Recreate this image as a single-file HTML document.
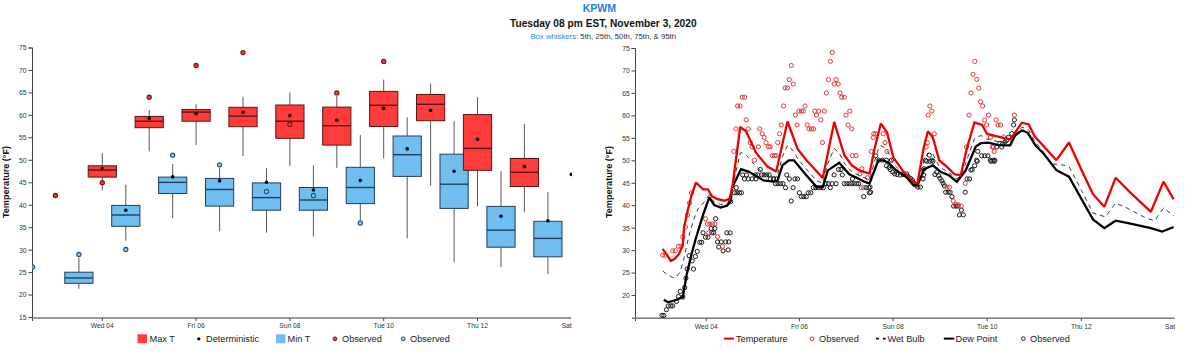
<!DOCTYPE html>
<html><head><meta charset="utf-8"><style>
html,body{margin:0;padding:0;background:#fff;width:1200px;height:357px;overflow:hidden}
svg{display:block;font-family:"Liberation Sans", sans-serif}
</style></head><body>
<svg width="1200" height="357" viewBox="0 0 1200 357">
<text x="599.3" y="12" text-anchor="middle" font-size="10.5" font-weight="bold" fill="#1a7fe0">KPWM</text>
<text x="603.3" y="27" text-anchor="middle" font-size="10.2" font-weight="bold" fill="#111">Tuesday 08 pm EST, November 3, 2020</text>
<text x="603.2" y="39" text-anchor="middle" font-size="7.75"><tspan fill="#2a8ae8">Box whiskers:</tspan><tspan fill="#333"> 5th, 25th, 50th, 75th, &amp; 95th</tspan></text>
<path d="M28.5,48 H32.5 V321" fill="none" stroke="#444" stroke-width="1"/>
<line x1="32" y1="318" x2="571.25" y2="318" stroke="#7a7a7a" stroke-width="1.6"/>
<line x1="28.5" y1="317.5" x2="32.5" y2="317.5" stroke="#444" stroke-width="1"/>
<text x="26.6" y="319.9" text-anchor="end" font-size="6.8" fill="#333">15</text>
<line x1="28.5" y1="295.04" x2="32.5" y2="295.04" stroke="#444" stroke-width="1"/>
<text x="26.6" y="297.44" text-anchor="end" font-size="6.8" fill="#333">20</text>
<line x1="28.5" y1="272.58" x2="32.5" y2="272.58" stroke="#444" stroke-width="1"/>
<text x="26.6" y="274.98" text-anchor="end" font-size="6.8" fill="#333">25</text>
<line x1="28.5" y1="250.12" x2="32.5" y2="250.12" stroke="#444" stroke-width="1"/>
<text x="26.6" y="252.52" text-anchor="end" font-size="6.8" fill="#333">30</text>
<line x1="28.5" y1="227.67" x2="32.5" y2="227.67" stroke="#444" stroke-width="1"/>
<text x="26.6" y="230.07" text-anchor="end" font-size="6.8" fill="#333">35</text>
<line x1="28.5" y1="205.21" x2="32.5" y2="205.21" stroke="#444" stroke-width="1"/>
<text x="26.6" y="207.61" text-anchor="end" font-size="6.8" fill="#333">40</text>
<line x1="28.5" y1="182.75" x2="32.5" y2="182.75" stroke="#444" stroke-width="1"/>
<text x="26.6" y="185.15" text-anchor="end" font-size="6.8" fill="#333">45</text>
<line x1="28.5" y1="160.29" x2="32.5" y2="160.29" stroke="#444" stroke-width="1"/>
<text x="26.6" y="162.69" text-anchor="end" font-size="6.8" fill="#333">50</text>
<line x1="28.5" y1="137.83" x2="32.5" y2="137.83" stroke="#444" stroke-width="1"/>
<text x="26.6" y="140.23" text-anchor="end" font-size="6.8" fill="#333">55</text>
<line x1="28.5" y1="115.37" x2="32.5" y2="115.37" stroke="#444" stroke-width="1"/>
<text x="26.6" y="117.77" text-anchor="end" font-size="6.8" fill="#333">60</text>
<line x1="28.5" y1="92.92" x2="32.5" y2="92.92" stroke="#444" stroke-width="1"/>
<text x="26.6" y="95.32" text-anchor="end" font-size="6.8" fill="#333">65</text>
<line x1="28.5" y1="70.46" x2="32.5" y2="70.46" stroke="#444" stroke-width="1"/>
<text x="26.6" y="72.86" text-anchor="end" font-size="6.8" fill="#333">70</text>
<line x1="28.5" y1="48" x2="32.5" y2="48" stroke="#444" stroke-width="1"/>
<text x="26.6" y="50.4" text-anchor="end" font-size="6.8" fill="#333">75</text>
<defs><clipPath id="cl"><rect x="32" y="40" width="540" height="300"/></clipPath><clipPath id="cr"><rect x="635.5" y="40" width="539.5" height="300"/></clipPath></defs>
<g clip-path="url(#cl)">
<line x1="102.3" y1="318" x2="102.3" y2="321" stroke="#444" stroke-width="1"/>
<text x="102.3" y="328.3" text-anchor="middle" font-size="6.7" fill="#333">Wed 04</text>
<line x1="196.1" y1="318" x2="196.1" y2="321" stroke="#444" stroke-width="1"/>
<text x="196.1" y="328.3" text-anchor="middle" font-size="6.7" fill="#333">Fri 06</text>
<line x1="289.9" y1="318" x2="289.9" y2="321" stroke="#444" stroke-width="1"/>
<text x="289.9" y="328.3" text-anchor="middle" font-size="6.7" fill="#333">Sun 08</text>
<line x1="383.7" y1="318" x2="383.7" y2="321" stroke="#444" stroke-width="1"/>
<text x="383.7" y="328.3" text-anchor="middle" font-size="6.7" fill="#333">Tue 10</text>
<line x1="477.5" y1="318" x2="477.5" y2="321" stroke="#444" stroke-width="1"/>
<text x="477.5" y="328.3" text-anchor="middle" font-size="6.7" fill="#333">Thu 12</text>
<text x="571.3" y="328.3" text-anchor="middle" font-size="6.7" fill="#333">Sat 14</text>
<circle cx="571.3" cy="174.4" r="1.8" fill="#000"/>
</g>
<text transform="translate(8.7,182) rotate(-90)" text-anchor="middle" font-size="9.1" font-weight="bold" fill="#111">Temperature (°F)</text>
<g>
<line x1="78.9" y1="257.8" x2="78.9" y2="288.8" stroke="#585858" stroke-width="1"/>
<rect x="64.8" y="272.2" width="28.2" height="11.1" fill="#70bdf0" stroke="#1f3f5c" stroke-width="1"/>
<line x1="64.8" y1="278" x2="93" y2="278" stroke="#1f3f5c" stroke-width="1.4"/>
<circle cx="78.9" cy="254.5" r="2.1" fill="#8ccaf2" stroke="#1b5080" stroke-width="1.1"/>
<line x1="125.8" y1="184.7" x2="125.8" y2="240.7" stroke="#585858" stroke-width="1"/>
<rect x="111.7" y="205.4" width="28.2" height="20.9" fill="#70bdf0" stroke="#1f3f5c" stroke-width="1"/>
<line x1="111.7" y1="215" x2="139.9" y2="215" stroke="#1f3f5c" stroke-width="1.4"/>
<circle cx="125.8" cy="210.2" r="1.8" fill="#000"/>
<circle cx="125.8" cy="249.5" r="2.1" fill="#8ccaf2" stroke="#1b5080" stroke-width="1.1"/>
<line x1="172.7" y1="164" x2="172.7" y2="218" stroke="#585858" stroke-width="1"/>
<rect x="158.6" y="177.1" width="28.2" height="16.4" fill="#70bdf0" stroke="#1f3f5c" stroke-width="1"/>
<line x1="158.6" y1="182.4" x2="186.8" y2="182.4" stroke="#1f3f5c" stroke-width="1.4"/>
<circle cx="172.7" cy="176.9" r="1.8" fill="#000"/>
<circle cx="172.7" cy="155.2" r="2.1" fill="#8ccaf2" stroke="#1b5080" stroke-width="1.1"/>
<line x1="219.6" y1="167.8" x2="219.6" y2="231.3" stroke="#585858" stroke-width="1"/>
<rect x="205.5" y="178.4" width="28.2" height="27.7" fill="#70bdf0" stroke="#1f3f5c" stroke-width="1"/>
<line x1="205.5" y1="189.5" x2="233.7" y2="189.5" stroke="#1f3f5c" stroke-width="1.4"/>
<circle cx="219.6" cy="180.9" r="1.8" fill="#000"/>
<circle cx="219.6" cy="164.8" r="2.1" fill="#8ccaf2" stroke="#1b5080" stroke-width="1.1"/>
<line x1="266.5" y1="168.3" x2="266.5" y2="232.6" stroke="#585858" stroke-width="1"/>
<rect x="252.4" y="182.9" width="28.2" height="27.3" fill="#70bdf0" stroke="#1f3f5c" stroke-width="1"/>
<line x1="252.4" y1="197.6" x2="280.6" y2="197.6" stroke="#1f3f5c" stroke-width="1.4"/>
<circle cx="266.5" cy="182.2" r="1.8" fill="#000"/>
<circle cx="266.5" cy="191.5" r="2.1" fill="#8ccaf2" stroke="#1b5080" stroke-width="1.1"/>
<line x1="313.4" y1="165.3" x2="313.4" y2="236.4" stroke="#585858" stroke-width="1"/>
<rect x="299.3" y="187.5" width="28.2" height="22.7" fill="#70bdf0" stroke="#1f3f5c" stroke-width="1"/>
<line x1="299.3" y1="200" x2="327.5" y2="200" stroke="#1f3f5c" stroke-width="1.4"/>
<circle cx="313.4" cy="190" r="1.8" fill="#000"/>
<circle cx="313.4" cy="195.5" r="2.1" fill="#8ccaf2" stroke="#1b5080" stroke-width="1.1"/>
<line x1="360.3" y1="135" x2="360.3" y2="220" stroke="#585858" stroke-width="1"/>
<rect x="346.2" y="167.3" width="28.2" height="36.3" fill="#70bdf0" stroke="#1f3f5c" stroke-width="1"/>
<line x1="346.2" y1="187.5" x2="374.4" y2="187.5" stroke="#1f3f5c" stroke-width="1.4"/>
<circle cx="360.3" cy="180.4" r="1.8" fill="#000"/>
<circle cx="360.3" cy="223" r="2.1" fill="#8ccaf2" stroke="#1b5080" stroke-width="1.1"/>
<line x1="407.2" y1="117.4" x2="407.2" y2="238.4" stroke="#585858" stroke-width="1"/>
<rect x="393.1" y="136" width="28.2" height="40.4" fill="#70bdf0" stroke="#1f3f5c" stroke-width="1"/>
<line x1="393.1" y1="154.7" x2="421.3" y2="154.7" stroke="#1f3f5c" stroke-width="1.4"/>
<circle cx="407.2" cy="148.9" r="1.8" fill="#000"/>
<line x1="454.1" y1="120.9" x2="454.1" y2="262.3" stroke="#585858" stroke-width="1"/>
<rect x="440" y="154.2" width="28.2" height="54.2" fill="#70bdf0" stroke="#1f3f5c" stroke-width="1"/>
<line x1="440" y1="184.2" x2="468.2" y2="184.2" stroke="#1f3f5c" stroke-width="1.4"/>
<circle cx="454.1" cy="171.3" r="1.8" fill="#000"/>
<line x1="501" y1="171.1" x2="501" y2="267.1" stroke="#585858" stroke-width="1"/>
<rect x="486.9" y="206.4" width="28.2" height="40.8" fill="#70bdf0" stroke="#1f3f5c" stroke-width="1"/>
<line x1="486.9" y1="230.1" x2="515.1" y2="230.1" stroke="#1f3f5c" stroke-width="1.4"/>
<circle cx="501" cy="216.2" r="1.8" fill="#000"/>
<line x1="547.9" y1="192" x2="547.9" y2="274.2" stroke="#585858" stroke-width="1"/>
<rect x="533.8" y="221.3" width="28.2" height="35.5" fill="#70bdf0" stroke="#1f3f5c" stroke-width="1"/>
<line x1="533.8" y1="238.4" x2="562" y2="238.4" stroke="#1f3f5c" stroke-width="1.4"/>
<circle cx="547.9" cy="220.8" r="1.8" fill="#000"/>
<line x1="102.3" y1="153.2" x2="102.3" y2="190.5" stroke="#585858" stroke-width="1"/>
<rect x="88.2" y="165.8" width="28.2" height="11.3" fill="#ff3b3b" stroke="#5a1414" stroke-width="1"/>
<line x1="88.2" y1="170.1" x2="116.4" y2="170.1" stroke="#5a1414" stroke-width="1.4"/>
<circle cx="102.3" cy="168.6" r="1.8" fill="#000"/>
<circle cx="102.3" cy="182.7" r="2.1" fill="#f04040" stroke="#7a0e0e" stroke-width="1.1"/>
<line x1="149.2" y1="110" x2="149.2" y2="151.4" stroke="#585858" stroke-width="1"/>
<rect x="135.1" y="116.4" width="28.2" height="11.3" fill="#ff3b3b" stroke="#5a1414" stroke-width="1"/>
<line x1="135.1" y1="121.2" x2="163.3" y2="121.2" stroke="#5a1414" stroke-width="1.4"/>
<circle cx="149.2" cy="118.4" r="1.8" fill="#000"/>
<circle cx="149.2" cy="97.2" r="2.1" fill="#f04040" stroke="#7a0e0e" stroke-width="1.1"/>
<line x1="196.1" y1="104.3" x2="196.1" y2="145.1" stroke="#585858" stroke-width="1"/>
<rect x="182" y="109.6" width="28.2" height="11.6" fill="#ff3b3b" stroke="#5a1414" stroke-width="1"/>
<line x1="182" y1="112.1" x2="210.2" y2="112.1" stroke="#5a1414" stroke-width="1.4"/>
<circle cx="196.1" cy="113.6" r="1.8" fill="#000"/>
<circle cx="196.1" cy="65.5" r="2.1" fill="#f04040" stroke="#7a0e0e" stroke-width="1.1"/>
<line x1="243" y1="96.7" x2="243" y2="156" stroke="#585858" stroke-width="1"/>
<rect x="228.9" y="107.3" width="28.2" height="19.4" fill="#ff3b3b" stroke="#5a1414" stroke-width="1"/>
<line x1="228.9" y1="116.1" x2="257.1" y2="116.1" stroke="#5a1414" stroke-width="1.4"/>
<circle cx="243" cy="112.3" r="1.8" fill="#000"/>
<circle cx="243" cy="52.6" r="2.1" fill="#f04040" stroke="#7a0e0e" stroke-width="1.1"/>
<line x1="289.9" y1="92.4" x2="289.9" y2="166" stroke="#585858" stroke-width="1"/>
<rect x="275.8" y="105" width="28.2" height="33.3" fill="#ff3b3b" stroke="#5a1414" stroke-width="1"/>
<line x1="275.8" y1="121.2" x2="304" y2="121.2" stroke="#5a1414" stroke-width="1.4"/>
<circle cx="289.9" cy="115.6" r="1.8" fill="#000"/>
<circle cx="289.9" cy="124.4" r="2.1" fill="#f04040" stroke="#7a0e0e" stroke-width="1.1"/>
<line x1="336.8" y1="96" x2="336.8" y2="167.8" stroke="#585858" stroke-width="1"/>
<rect x="322.7" y="107.1" width="28.2" height="38" fill="#ff3b3b" stroke="#5a1414" stroke-width="1"/>
<line x1="322.7" y1="125.7" x2="350.9" y2="125.7" stroke="#5a1414" stroke-width="1.4"/>
<circle cx="336.8" cy="120.2" r="1.8" fill="#000"/>
<circle cx="336.8" cy="92.9" r="2.1" fill="#f04040" stroke="#7a0e0e" stroke-width="1.1"/>
<line x1="383.7" y1="79.6" x2="383.7" y2="158.5" stroke="#585858" stroke-width="1"/>
<rect x="369.6" y="91.4" width="28.2" height="35.1" fill="#ff3b3b" stroke="#5a1414" stroke-width="1"/>
<line x1="369.6" y1="105.3" x2="397.8" y2="105.3" stroke="#5a1414" stroke-width="1.4"/>
<circle cx="383.7" cy="108.3" r="1.8" fill="#000"/>
<circle cx="383.7" cy="61.4" r="2.1" fill="#f04040" stroke="#7a0e0e" stroke-width="1.1"/>
<line x1="430.6" y1="83.6" x2="430.6" y2="185.5" stroke="#585858" stroke-width="1"/>
<rect x="416.5" y="94.5" width="28.2" height="26.2" fill="#ff3b3b" stroke="#5a1414" stroke-width="1"/>
<line x1="416.5" y1="104.3" x2="444.7" y2="104.3" stroke="#5a1414" stroke-width="1.4"/>
<circle cx="430.6" cy="110.3" r="1.8" fill="#000"/>
<line x1="477.5" y1="97.2" x2="477.5" y2="206.4" stroke="#585858" stroke-width="1"/>
<rect x="463.4" y="114.6" width="28.2" height="55.7" fill="#ff3b3b" stroke="#5a1414" stroke-width="1"/>
<line x1="463.4" y1="148.4" x2="491.6" y2="148.4" stroke="#5a1414" stroke-width="1.4"/>
<circle cx="477.5" cy="139.3" r="1.8" fill="#000"/>
<line x1="524.4" y1="124" x2="524.4" y2="211.9" stroke="#585858" stroke-width="1"/>
<rect x="510.3" y="158.5" width="28.2" height="28" fill="#ff3b3b" stroke="#5a1414" stroke-width="1"/>
<line x1="510.3" y1="172.3" x2="538.5" y2="172.3" stroke="#5a1414" stroke-width="1.4"/>
<circle cx="524.4" cy="166.6" r="1.8" fill="#000"/>
<circle cx="55.4" cy="195.5" r="2.1" fill="#f04040" stroke="#7a0e0e" stroke-width="1.1"/>
<path d="M32.5,264.9 A2.1,2.1 0 0 1 32.5,269.3" fill="#8ccaf2" stroke="#1b5080" stroke-width="1.1"/>
</g>
<rect x="137.5" y="334.3" width="9.5" height="9" fill="#ff3b3b"/>
<text x="149.5" y="341.8" font-size="9.2" fill="#222">Max T</text>
<circle cx="198.8" cy="338.8" r="1.6" fill="#000"/>
<text x="206" y="341.8" font-size="9.2" fill="#222">Deterministic</text>
<rect x="276" y="334.3" width="9.5" height="9" fill="#70bdf0"/>
<text x="287.5" y="341.8" font-size="9.2" fill="#222">Min T</text>
<circle cx="335" cy="338.8" r="1.9" fill="#e0404a" stroke="#7a1a22" stroke-width="1"/>
<text x="342" y="341.8" font-size="9.2" fill="#222">Observed</text>
<circle cx="403.2" cy="338.8" r="1.9" fill="#9fd3f3" stroke="#2b4a66" stroke-width="1"/>
<text x="410" y="341.8" font-size="9.2" fill="#222">Observed</text>
<path d="M631.5,48.5 H635.5 V321" fill="none" stroke="#444" stroke-width="1"/>
<line x1="632" y1="318.2" x2="1174.7" y2="318.2" stroke="#7a7a7a" stroke-width="1.6"/>
<line x1="631.5" y1="295.54" x2="635.5" y2="295.54" stroke="#444" stroke-width="1"/>
<text x="629.8" y="297.94" text-anchor="end" font-size="6.8" fill="#333">20</text>
<line x1="631.5" y1="273.08" x2="635.5" y2="273.08" stroke="#444" stroke-width="1"/>
<text x="629.8" y="275.48" text-anchor="end" font-size="6.8" fill="#333">25</text>
<line x1="631.5" y1="250.62" x2="635.5" y2="250.62" stroke="#444" stroke-width="1"/>
<text x="629.8" y="253.02" text-anchor="end" font-size="6.8" fill="#333">30</text>
<line x1="631.5" y1="228.17" x2="635.5" y2="228.17" stroke="#444" stroke-width="1"/>
<text x="629.8" y="230.57" text-anchor="end" font-size="6.8" fill="#333">35</text>
<line x1="631.5" y1="205.71" x2="635.5" y2="205.71" stroke="#444" stroke-width="1"/>
<text x="629.8" y="208.11" text-anchor="end" font-size="6.8" fill="#333">40</text>
<line x1="631.5" y1="183.25" x2="635.5" y2="183.25" stroke="#444" stroke-width="1"/>
<text x="629.8" y="185.65" text-anchor="end" font-size="6.8" fill="#333">45</text>
<line x1="631.5" y1="160.79" x2="635.5" y2="160.79" stroke="#444" stroke-width="1"/>
<text x="629.8" y="163.19" text-anchor="end" font-size="6.8" fill="#333">50</text>
<line x1="631.5" y1="138.33" x2="635.5" y2="138.33" stroke="#444" stroke-width="1"/>
<text x="629.8" y="140.73" text-anchor="end" font-size="6.8" fill="#333">55</text>
<line x1="631.5" y1="115.87" x2="635.5" y2="115.87" stroke="#444" stroke-width="1"/>
<text x="629.8" y="118.27" text-anchor="end" font-size="6.8" fill="#333">60</text>
<line x1="631.5" y1="93.42" x2="635.5" y2="93.42" stroke="#444" stroke-width="1"/>
<text x="629.8" y="95.82" text-anchor="end" font-size="6.8" fill="#333">65</text>
<line x1="631.5" y1="70.96" x2="635.5" y2="70.96" stroke="#444" stroke-width="1"/>
<text x="629.8" y="73.36" text-anchor="end" font-size="6.8" fill="#333">70</text>
<line x1="631.5" y1="48.5" x2="635.5" y2="48.5" stroke="#444" stroke-width="1"/>
<text x="629.8" y="50.9" text-anchor="end" font-size="6.8" fill="#333">75</text>
<g clip-path="url(#cr)">
<line x1="706.25" y1="318.2" x2="706.25" y2="321.2" stroke="#444" stroke-width="1"/>
<text x="706.25" y="328.5" text-anchor="middle" font-size="6.7" fill="#333">Wed 04</text>
<line x1="799.5" y1="318.2" x2="799.5" y2="321.2" stroke="#444" stroke-width="1"/>
<text x="799.5" y="328.5" text-anchor="middle" font-size="6.7" fill="#333">Fri 06</text>
<line x1="893.1" y1="318.2" x2="893.1" y2="321.2" stroke="#444" stroke-width="1"/>
<text x="893.1" y="328.5" text-anchor="middle" font-size="6.7" fill="#333">Sun 08</text>
<line x1="987.2" y1="318.2" x2="987.2" y2="321.2" stroke="#444" stroke-width="1"/>
<text x="987.2" y="328.5" text-anchor="middle" font-size="6.7" fill="#333">Tue 10</text>
<line x1="1081.3" y1="318.2" x2="1081.3" y2="321.2" stroke="#444" stroke-width="1"/>
<text x="1081.3" y="328.5" text-anchor="middle" font-size="6.7" fill="#333">Thu 12</text>
<text x="1174.7" y="328.5" text-anchor="middle" font-size="6.7" fill="#333">Sat 14</text>
</g>
<text transform="translate(612.3,182) rotate(-90)" text-anchor="middle" font-size="9.1" font-weight="bold" fill="#111">Temperature (°F)</text>
<circle cx="742.7" cy="174.9" r="2.1" fill="none" stroke="#1a1a1a" stroke-width="1"/>
<circle cx="746.4" cy="174.9" r="2.1" fill="none" stroke="#1a1a1a" stroke-width="1"/>
<circle cx="755.3" cy="174.9" r="2.1" fill="none" stroke="#1a1a1a" stroke-width="1"/>
<circle cx="757.8" cy="174.9" r="2.1" fill="none" stroke="#1a1a1a" stroke-width="1"/>
<circle cx="761.6" cy="174.9" r="2.1" fill="none" stroke="#1a1a1a" stroke-width="1"/>
<circle cx="764.1" cy="174.9" r="2.1" fill="none" stroke="#1a1a1a" stroke-width="1"/>
<circle cx="766.6" cy="174.9" r="2.1" fill="none" stroke="#1a1a1a" stroke-width="1"/>
<circle cx="769.1" cy="174.9" r="2.1" fill="none" stroke="#1a1a1a" stroke-width="1"/>
<circle cx="744.5" cy="178.9" r="2.1" fill="none" stroke="#1a1a1a" stroke-width="1"/>
<circle cx="748.3" cy="178.9" r="2.1" fill="none" stroke="#1a1a1a" stroke-width="1"/>
<circle cx="752.1" cy="178.9" r="2.1" fill="none" stroke="#1a1a1a" stroke-width="1"/>
<circle cx="755.9" cy="178.9" r="2.1" fill="none" stroke="#1a1a1a" stroke-width="1"/>
<circle cx="770.4" cy="178.9" r="2.1" fill="none" stroke="#1a1a1a" stroke-width="1"/>
<circle cx="773.5" cy="178.9" r="2.1" fill="none" stroke="#1a1a1a" stroke-width="1"/>
<circle cx="776.7" cy="178.9" r="2.1" fill="none" stroke="#1a1a1a" stroke-width="1"/>
<circle cx="760.3" cy="169.5" r="2.1" fill="none" stroke="#1a1a1a" stroke-width="1"/>
<circle cx="786.8" cy="174.9" r="2.1" fill="none" stroke="#1a1a1a" stroke-width="1"/>
<circle cx="789.3" cy="178.9" r="2.1" fill="none" stroke="#1a1a1a" stroke-width="1"/>
<circle cx="795" cy="178.9" r="2.1" fill="none" stroke="#1a1a1a" stroke-width="1"/>
<circle cx="797.5" cy="178.9" r="2.1" fill="none" stroke="#1a1a1a" stroke-width="1"/>
<circle cx="775.4" cy="183.7" r="2.1" fill="none" stroke="#1a1a1a" stroke-width="1"/>
<circle cx="778" cy="183.7" r="2.1" fill="none" stroke="#1a1a1a" stroke-width="1"/>
<circle cx="780.5" cy="183.7" r="2.1" fill="none" stroke="#1a1a1a" stroke-width="1"/>
<circle cx="783" cy="183.7" r="2.1" fill="none" stroke="#1a1a1a" stroke-width="1"/>
<circle cx="736.3" cy="187.7" r="2.1" fill="none" stroke="#1a1a1a" stroke-width="1"/>
<circle cx="785.5" cy="187.7" r="2.1" fill="none" stroke="#1a1a1a" stroke-width="1"/>
<circle cx="793.1" cy="187.7" r="2.1" fill="none" stroke="#1a1a1a" stroke-width="1"/>
<circle cx="734.5" cy="192.8" r="2.1" fill="none" stroke="#1a1a1a" stroke-width="1"/>
<circle cx="737" cy="192.8" r="2.1" fill="none" stroke="#1a1a1a" stroke-width="1"/>
<circle cx="739.5" cy="192.8" r="2.1" fill="none" stroke="#1a1a1a" stroke-width="1"/>
<circle cx="741.4" cy="192.8" r="2.1" fill="none" stroke="#1a1a1a" stroke-width="1"/>
<circle cx="799.4" cy="192.8" r="2.1" fill="none" stroke="#1a1a1a" stroke-width="1"/>
<circle cx="808.2" cy="192.8" r="2.1" fill="none" stroke="#1a1a1a" stroke-width="1"/>
<circle cx="810.8" cy="192.8" r="2.1" fill="none" stroke="#1a1a1a" stroke-width="1"/>
<circle cx="801.3" cy="196.6" r="2.1" fill="none" stroke="#1a1a1a" stroke-width="1"/>
<circle cx="803.8" cy="196.6" r="2.1" fill="none" stroke="#1a1a1a" stroke-width="1"/>
<circle cx="806.3" cy="196.6" r="2.1" fill="none" stroke="#1a1a1a" stroke-width="1"/>
<circle cx="791.2" cy="201" r="2.1" fill="none" stroke="#1a1a1a" stroke-width="1"/>
<circle cx="730.7" cy="201.6" r="2.1" fill="none" stroke="#1a1a1a" stroke-width="1"/>
<circle cx="813.3" cy="187.7" r="2.1" fill="none" stroke="#1a1a1a" stroke-width="1"/>
<circle cx="815.8" cy="187.7" r="2.1" fill="none" stroke="#1a1a1a" stroke-width="1"/>
<circle cx="818.3" cy="187.7" r="2.1" fill="none" stroke="#1a1a1a" stroke-width="1"/>
<circle cx="820.8" cy="187.7" r="2.1" fill="none" stroke="#1a1a1a" stroke-width="1"/>
<circle cx="823.4" cy="187.7" r="2.1" fill="none" stroke="#1a1a1a" stroke-width="1"/>
<circle cx="825.9" cy="183.7" r="2.1" fill="none" stroke="#1a1a1a" stroke-width="1"/>
<circle cx="828.4" cy="183.7" r="2.1" fill="none" stroke="#1a1a1a" stroke-width="1"/>
<circle cx="832.2" cy="183.7" r="2.1" fill="none" stroke="#1a1a1a" stroke-width="1"/>
<circle cx="836" cy="183.7" r="2.1" fill="none" stroke="#1a1a1a" stroke-width="1"/>
<circle cx="830.3" cy="187.7" r="2.1" fill="none" stroke="#1a1a1a" stroke-width="1"/>
<circle cx="838.5" cy="169.5" r="2.1" fill="none" stroke="#1a1a1a" stroke-width="1"/>
<circle cx="841" cy="169.5" r="2.1" fill="none" stroke="#1a1a1a" stroke-width="1"/>
<circle cx="834.1" cy="174.9" r="2.1" fill="none" stroke="#1a1a1a" stroke-width="1"/>
<circle cx="842.3" cy="174.9" r="2.1" fill="none" stroke="#1a1a1a" stroke-width="1"/>
<circle cx="844.2" cy="183.7" r="2.1" fill="none" stroke="#1a1a1a" stroke-width="1"/>
<circle cx="846.7" cy="183.7" r="2.1" fill="none" stroke="#1a1a1a" stroke-width="1"/>
<circle cx="849.2" cy="183.7" r="2.1" fill="none" stroke="#1a1a1a" stroke-width="1"/>
<circle cx="851.7" cy="183.7" r="2.1" fill="none" stroke="#1a1a1a" stroke-width="1"/>
<circle cx="854.3" cy="183.7" r="2.1" fill="none" stroke="#1a1a1a" stroke-width="1"/>
<circle cx="856.8" cy="183.7" r="2.1" fill="none" stroke="#1a1a1a" stroke-width="1"/>
<circle cx="858.7" cy="183.7" r="2.1" fill="none" stroke="#1a1a1a" stroke-width="1"/>
<circle cx="852.4" cy="178.9" r="2.1" fill="none" stroke="#1a1a1a" stroke-width="1"/>
<circle cx="866.2" cy="187.7" r="2.1" fill="none" stroke="#1a1a1a" stroke-width="1"/>
<circle cx="868.8" cy="187.7" r="2.1" fill="none" stroke="#1a1a1a" stroke-width="1"/>
<circle cx="869.4" cy="192.8" r="2.1" fill="none" stroke="#1a1a1a" stroke-width="1"/>
<circle cx="863.7" cy="196.6" r="2.1" fill="none" stroke="#1a1a1a" stroke-width="1"/>
<circle cx="1014.4" cy="119.8" r="2.1" fill="none" stroke="#1a1a1a" stroke-width="1"/>
<circle cx="1013.6" cy="124.9" r="2.1" fill="none" stroke="#1a1a1a" stroke-width="1"/>
<circle cx="1011.8" cy="133.6" r="2.1" fill="none" stroke="#1a1a1a" stroke-width="1"/>
<circle cx="1008.5" cy="137.3" r="2.1" fill="none" stroke="#1a1a1a" stroke-width="1"/>
<circle cx="1006.8" cy="140" r="2.1" fill="none" stroke="#1a1a1a" stroke-width="1"/>
<circle cx="1005.1" cy="142" r="2.1" fill="none" stroke="#1a1a1a" stroke-width="1"/>
<circle cx="1000" cy="143.4" r="2.1" fill="none" stroke="#1a1a1a" stroke-width="1"/>
<circle cx="1002.6" cy="143.7" r="2.1" fill="none" stroke="#1a1a1a" stroke-width="1"/>
<circle cx="996.7" cy="147" r="2.1" fill="none" stroke="#1a1a1a" stroke-width="1"/>
<circle cx="1001.8" cy="147" r="2.1" fill="none" stroke="#1a1a1a" stroke-width="1"/>
<circle cx="977.8" cy="151.4" r="2.1" fill="none" stroke="#1a1a1a" stroke-width="1"/>
<circle cx="981.6" cy="155.8" r="2.1" fill="none" stroke="#1a1a1a" stroke-width="1"/>
<circle cx="984.8" cy="155.8" r="2.1" fill="none" stroke="#1a1a1a" stroke-width="1"/>
<circle cx="987.9" cy="155.8" r="2.1" fill="none" stroke="#1a1a1a" stroke-width="1"/>
<circle cx="990.4" cy="160.2" r="2.1" fill="none" stroke="#1a1a1a" stroke-width="1"/>
<circle cx="992.9" cy="160.2" r="2.1" fill="none" stroke="#1a1a1a" stroke-width="1"/>
<circle cx="994.8" cy="160.2" r="2.1" fill="none" stroke="#1a1a1a" stroke-width="1"/>
<circle cx="976.6" cy="160.2" r="2.1" fill="none" stroke="#1a1a1a" stroke-width="1"/>
<circle cx="929.3" cy="155.2" r="2.1" fill="none" stroke="#1a1a1a" stroke-width="1"/>
<circle cx="925.5" cy="160.2" r="2.1" fill="none" stroke="#1a1a1a" stroke-width="1"/>
<circle cx="931.8" cy="160.2" r="2.1" fill="none" stroke="#1a1a1a" stroke-width="1"/>
<circle cx="875.7" cy="155.8" r="2.1" fill="none" stroke="#1a1a1a" stroke-width="1"/>
<circle cx="878.8" cy="160.2" r="2.1" fill="none" stroke="#1a1a1a" stroke-width="1"/>
<circle cx="882.6" cy="160.2" r="2.1" fill="none" stroke="#1a1a1a" stroke-width="1"/>
<circle cx="886.4" cy="160.2" r="2.1" fill="none" stroke="#1a1a1a" stroke-width="1"/>
<circle cx="891.4" cy="160.2" r="2.1" fill="none" stroke="#1a1a1a" stroke-width="1"/>
<circle cx="886.4" cy="165.7" r="2.1" fill="none" stroke="#1a1a1a" stroke-width="1"/>
<circle cx="888.9" cy="167.6" r="2.1" fill="none" stroke="#1a1a1a" stroke-width="1"/>
<circle cx="890.2" cy="169.5" r="2.1" fill="none" stroke="#1a1a1a" stroke-width="1"/>
<circle cx="892.7" cy="172" r="2.1" fill="none" stroke="#1a1a1a" stroke-width="1"/>
<circle cx="894.6" cy="173.9" r="2.1" fill="none" stroke="#1a1a1a" stroke-width="1"/>
<circle cx="897.1" cy="174.5" r="2.1" fill="none" stroke="#1a1a1a" stroke-width="1"/>
<circle cx="900.3" cy="175.1" r="2.1" fill="none" stroke="#1a1a1a" stroke-width="1"/>
<circle cx="903.4" cy="174.5" r="2.1" fill="none" stroke="#1a1a1a" stroke-width="1"/>
<circle cx="906.6" cy="173.9" r="2.1" fill="none" stroke="#1a1a1a" stroke-width="1"/>
<circle cx="907.8" cy="176.4" r="2.1" fill="none" stroke="#1a1a1a" stroke-width="1"/>
<circle cx="910.4" cy="178.3" r="2.1" fill="none" stroke="#1a1a1a" stroke-width="1"/>
<circle cx="912.3" cy="180.2" r="2.1" fill="none" stroke="#1a1a1a" stroke-width="1"/>
<circle cx="913.5" cy="182.7" r="2.1" fill="none" stroke="#1a1a1a" stroke-width="1"/>
<circle cx="916" cy="185.2" r="2.1" fill="none" stroke="#1a1a1a" stroke-width="1"/>
<circle cx="917.9" cy="187.1" r="2.1" fill="none" stroke="#1a1a1a" stroke-width="1"/>
<circle cx="920.4" cy="187.1" r="2.1" fill="none" stroke="#1a1a1a" stroke-width="1"/>
<circle cx="870" cy="187.1" r="2.1" fill="none" stroke="#1a1a1a" stroke-width="1"/>
<circle cx="870.6" cy="192.2" r="2.1" fill="none" stroke="#1a1a1a" stroke-width="1"/>
<circle cx="924.2" cy="168.8" r="2.1" fill="none" stroke="#1a1a1a" stroke-width="1"/>
<circle cx="923.6" cy="175.1" r="2.1" fill="none" stroke="#1a1a1a" stroke-width="1"/>
<circle cx="923" cy="178.9" r="2.1" fill="none" stroke="#1a1a1a" stroke-width="1"/>
<circle cx="934.9" cy="174.5" r="2.1" fill="none" stroke="#1a1a1a" stroke-width="1"/>
<circle cx="936.8" cy="172" r="2.1" fill="none" stroke="#1a1a1a" stroke-width="1"/>
<circle cx="938.7" cy="175.8" r="2.1" fill="none" stroke="#1a1a1a" stroke-width="1"/>
<circle cx="940" cy="178.3" r="2.1" fill="none" stroke="#1a1a1a" stroke-width="1"/>
<circle cx="941.9" cy="180.8" r="2.1" fill="none" stroke="#1a1a1a" stroke-width="1"/>
<circle cx="943.1" cy="183.3" r="2.1" fill="none" stroke="#1a1a1a" stroke-width="1"/>
<circle cx="944.4" cy="185.9" r="2.1" fill="none" stroke="#1a1a1a" stroke-width="1"/>
<circle cx="945.7" cy="192.2" r="2.1" fill="none" stroke="#1a1a1a" stroke-width="1"/>
<circle cx="948.2" cy="192.2" r="2.1" fill="none" stroke="#1a1a1a" stroke-width="1"/>
<circle cx="950.1" cy="192.2" r="2.1" fill="none" stroke="#1a1a1a" stroke-width="1"/>
<circle cx="952" cy="196.6" r="2.1" fill="none" stroke="#1a1a1a" stroke-width="1"/>
<circle cx="926.7" cy="161.3" r="2.1" fill="none" stroke="#1a1a1a" stroke-width="1"/>
<circle cx="929.9" cy="161.3" r="2.1" fill="none" stroke="#1a1a1a" stroke-width="1"/>
<circle cx="933" cy="161.3" r="2.1" fill="none" stroke="#1a1a1a" stroke-width="1"/>
<circle cx="977.2" cy="161.3" r="2.1" fill="none" stroke="#1a1a1a" stroke-width="1"/>
<circle cx="974.7" cy="165.7" r="2.1" fill="none" stroke="#1a1a1a" stroke-width="1"/>
<circle cx="972.1" cy="169.5" r="2.1" fill="none" stroke="#1a1a1a" stroke-width="1"/>
<circle cx="970.9" cy="170.1" r="2.1" fill="none" stroke="#1a1a1a" stroke-width="1"/>
<circle cx="967.1" cy="178.9" r="2.1" fill="none" stroke="#1a1a1a" stroke-width="1"/>
<circle cx="969.6" cy="178.9" r="2.1" fill="none" stroke="#1a1a1a" stroke-width="1"/>
<circle cx="965.2" cy="192.2" r="2.1" fill="none" stroke="#1a1a1a" stroke-width="1"/>
<circle cx="991.1" cy="161.3" r="2.1" fill="none" stroke="#1a1a1a" stroke-width="1"/>
<circle cx="994.2" cy="161.3" r="2.1" fill="none" stroke="#1a1a1a" stroke-width="1"/>
<circle cx="953.6" cy="206.1" r="2.1" fill="none" stroke="#1a1a1a" stroke-width="1"/>
<circle cx="956.1" cy="206.1" r="2.1" fill="none" stroke="#1a1a1a" stroke-width="1"/>
<circle cx="958" cy="206.1" r="2.1" fill="none" stroke="#1a1a1a" stroke-width="1"/>
<circle cx="961.4" cy="210.1" r="2.1" fill="none" stroke="#1a1a1a" stroke-width="1"/>
<circle cx="959.3" cy="214.9" r="2.1" fill="none" stroke="#1a1a1a" stroke-width="1"/>
<circle cx="963.3" cy="214.9" r="2.1" fill="none" stroke="#1a1a1a" stroke-width="1"/>
<circle cx="715.6" cy="218.7" r="2.1" fill="none" stroke="#1a1a1a" stroke-width="1"/>
<circle cx="711.2" cy="228.4" r="2.1" fill="none" stroke="#1a1a1a" stroke-width="1"/>
<circle cx="714.9" cy="228.4" r="2.1" fill="none" stroke="#1a1a1a" stroke-width="1"/>
<circle cx="703" cy="232.8" r="2.1" fill="none" stroke="#1a1a1a" stroke-width="1"/>
<circle cx="711.8" cy="232.8" r="2.1" fill="none" stroke="#1a1a1a" stroke-width="1"/>
<circle cx="713.7" cy="232.8" r="2.1" fill="none" stroke="#1a1a1a" stroke-width="1"/>
<circle cx="726.9" cy="232.8" r="2.1" fill="none" stroke="#1a1a1a" stroke-width="1"/>
<circle cx="730.1" cy="232.8" r="2.1" fill="none" stroke="#1a1a1a" stroke-width="1"/>
<circle cx="705.5" cy="237.2" r="2.1" fill="none" stroke="#1a1a1a" stroke-width="1"/>
<circle cx="708" cy="237.2" r="2.1" fill="none" stroke="#1a1a1a" stroke-width="1"/>
<circle cx="699.8" cy="242.3" r="2.1" fill="none" stroke="#1a1a1a" stroke-width="1"/>
<circle cx="701.7" cy="242.3" r="2.1" fill="none" stroke="#1a1a1a" stroke-width="1"/>
<circle cx="697.3" cy="251.4" r="2.1" fill="none" stroke="#1a1a1a" stroke-width="1"/>
<circle cx="695.4" cy="256.4" r="2.1" fill="none" stroke="#1a1a1a" stroke-width="1"/>
<circle cx="689.1" cy="255.8" r="2.1" fill="none" stroke="#1a1a1a" stroke-width="1"/>
<circle cx="692.2" cy="260.9" r="2.1" fill="none" stroke="#1a1a1a" stroke-width="1"/>
<circle cx="687.2" cy="269" r="2.1" fill="none" stroke="#1a1a1a" stroke-width="1"/>
<circle cx="693.5" cy="269" r="2.1" fill="none" stroke="#1a1a1a" stroke-width="1"/>
<circle cx="717.5" cy="241.9" r="2.1" fill="none" stroke="#1a1a1a" stroke-width="1"/>
<circle cx="721.2" cy="241.9" r="2.1" fill="none" stroke="#1a1a1a" stroke-width="1"/>
<circle cx="725.7" cy="241.9" r="2.1" fill="none" stroke="#1a1a1a" stroke-width="1"/>
<circle cx="728.8" cy="241.9" r="2.1" fill="none" stroke="#1a1a1a" stroke-width="1"/>
<circle cx="718.7" cy="247" r="2.1" fill="none" stroke="#1a1a1a" stroke-width="1"/>
<circle cx="723.1" cy="250.8" r="2.1" fill="none" stroke="#1a1a1a" stroke-width="1"/>
<circle cx="728.2" cy="249.9" r="2.1" fill="none" stroke="#1a1a1a" stroke-width="1"/>
<circle cx="662" cy="315.4" r="2.1" fill="none" stroke="#1a1a1a" stroke-width="1"/>
<circle cx="663.9" cy="315.4" r="2.1" fill="none" stroke="#1a1a1a" stroke-width="1"/>
<circle cx="666.4" cy="309.7" r="2.1" fill="none" stroke="#1a1a1a" stroke-width="1"/>
<circle cx="668.3" cy="305.9" r="2.1" fill="none" stroke="#1a1a1a" stroke-width="1"/>
<circle cx="670.8" cy="305.9" r="2.1" fill="none" stroke="#1a1a1a" stroke-width="1"/>
<circle cx="672.7" cy="305.9" r="2.1" fill="none" stroke="#1a1a1a" stroke-width="1"/>
<circle cx="676.5" cy="301.5" r="2.1" fill="none" stroke="#1a1a1a" stroke-width="1"/>
<circle cx="678.4" cy="296.4" r="2.1" fill="none" stroke="#1a1a1a" stroke-width="1"/>
<circle cx="680.3" cy="291.4" r="2.1" fill="none" stroke="#1a1a1a" stroke-width="1"/>
<circle cx="682.8" cy="297.1" r="2.1" fill="none" stroke="#1a1a1a" stroke-width="1"/>
<circle cx="684.7" cy="287.6" r="2.1" fill="none" stroke="#1a1a1a" stroke-width="1"/>
<circle cx="685.9" cy="278.2" r="2.1" fill="none" stroke="#1a1a1a" stroke-width="1"/>
<circle cx="737.6" cy="106" r="2.1" fill="none" stroke="#e63838" stroke-width="1"/>
<circle cx="740.1" cy="106" r="2.1" fill="none" stroke="#e63838" stroke-width="1"/>
<circle cx="742.2" cy="97.2" r="2.1" fill="none" stroke="#e63838" stroke-width="1"/>
<circle cx="744.7" cy="97.2" r="2.1" fill="none" stroke="#e63838" stroke-width="1"/>
<circle cx="746.2" cy="119.9" r="2.1" fill="none" stroke="#e63838" stroke-width="1"/>
<circle cx="735.9" cy="128.9" r="2.1" fill="none" stroke="#e63838" stroke-width="1"/>
<circle cx="748.2" cy="128.9" r="2.1" fill="none" stroke="#e63838" stroke-width="1"/>
<circle cx="759.8" cy="128.9" r="2.1" fill="none" stroke="#e63838" stroke-width="1"/>
<circle cx="781.2" cy="125" r="2.1" fill="none" stroke="#e63838" stroke-width="1"/>
<circle cx="783.5" cy="106" r="2.1" fill="none" stroke="#e63838" stroke-width="1"/>
<circle cx="785" cy="87.9" r="2.1" fill="none" stroke="#e63838" stroke-width="1"/>
<circle cx="787.5" cy="87.9" r="2.1" fill="none" stroke="#e63838" stroke-width="1"/>
<circle cx="789.3" cy="79.6" r="2.1" fill="none" stroke="#e63838" stroke-width="1"/>
<circle cx="791.3" cy="65.5" r="2.1" fill="none" stroke="#e63838" stroke-width="1"/>
<circle cx="793.3" cy="84.1" r="2.1" fill="none" stroke="#e63838" stroke-width="1"/>
<circle cx="795.4" cy="115.1" r="2.1" fill="none" stroke="#e63838" stroke-width="1"/>
<circle cx="797.1" cy="125" r="2.1" fill="none" stroke="#e63838" stroke-width="1"/>
<circle cx="798.9" cy="111.1" r="2.1" fill="none" stroke="#e63838" stroke-width="1"/>
<circle cx="801.4" cy="111.1" r="2.1" fill="none" stroke="#e63838" stroke-width="1"/>
<circle cx="803.4" cy="111.1" r="2.1" fill="none" stroke="#e63838" stroke-width="1"/>
<circle cx="805" cy="106" r="2.1" fill="none" stroke="#e63838" stroke-width="1"/>
<circle cx="807.2" cy="125" r="2.1" fill="none" stroke="#e63838" stroke-width="1"/>
<circle cx="809" cy="128.9" r="2.1" fill="none" stroke="#e63838" stroke-width="1"/>
<circle cx="811.5" cy="128.9" r="2.1" fill="none" stroke="#e63838" stroke-width="1"/>
<circle cx="813.5" cy="128.9" r="2.1" fill="none" stroke="#e63838" stroke-width="1"/>
<circle cx="814.8" cy="111.1" r="2.1" fill="none" stroke="#e63838" stroke-width="1"/>
<circle cx="818.6" cy="111.1" r="2.1" fill="none" stroke="#e63838" stroke-width="1"/>
<circle cx="816.5" cy="115.1" r="2.1" fill="none" stroke="#e63838" stroke-width="1"/>
<circle cx="820.8" cy="119.9" r="2.1" fill="none" stroke="#e63838" stroke-width="1"/>
<circle cx="824.4" cy="111.1" r="2.1" fill="none" stroke="#e63838" stroke-width="1"/>
<circle cx="826.4" cy="93" r="2.1" fill="none" stroke="#e63838" stroke-width="1"/>
<circle cx="828.4" cy="79.6" r="2.1" fill="none" stroke="#e63838" stroke-width="1"/>
<circle cx="830.4" cy="61.4" r="2.1" fill="none" stroke="#e63838" stroke-width="1"/>
<circle cx="832.2" cy="52.4" r="2.1" fill="none" stroke="#e63838" stroke-width="1"/>
<circle cx="834.2" cy="84.1" r="2.1" fill="none" stroke="#e63838" stroke-width="1"/>
<circle cx="838.2" cy="84.1" r="2.1" fill="none" stroke="#e63838" stroke-width="1"/>
<circle cx="836.2" cy="79.6" r="2.1" fill="none" stroke="#e63838" stroke-width="1"/>
<circle cx="840" cy="93" r="2.1" fill="none" stroke="#e63838" stroke-width="1"/>
<circle cx="841.7" cy="97.2" r="2.1" fill="none" stroke="#e63838" stroke-width="1"/>
<circle cx="844.3" cy="97.2" r="2.1" fill="none" stroke="#e63838" stroke-width="1"/>
<circle cx="846" cy="115.1" r="2.1" fill="none" stroke="#e63838" stroke-width="1"/>
<circle cx="849.8" cy="111.1" r="2.1" fill="none" stroke="#e63838" stroke-width="1"/>
<circle cx="848" cy="125" r="2.1" fill="none" stroke="#e63838" stroke-width="1"/>
<circle cx="851.8" cy="128.9" r="2.1" fill="none" stroke="#e63838" stroke-width="1"/>
<circle cx="928.2" cy="115.1" r="2.1" fill="none" stroke="#e63838" stroke-width="1"/>
<circle cx="929.9" cy="106" r="2.1" fill="none" stroke="#e63838" stroke-width="1"/>
<circle cx="931.9" cy="111.1" r="2.1" fill="none" stroke="#e63838" stroke-width="1"/>
<circle cx="762.2" cy="133.8" r="2.1" fill="none" stroke="#e63838" stroke-width="1"/>
<circle cx="764.1" cy="137.5" r="2.1" fill="none" stroke="#e63838" stroke-width="1"/>
<circle cx="766" cy="142.6" r="2.1" fill="none" stroke="#e63838" stroke-width="1"/>
<circle cx="768.5" cy="146.8" r="2.1" fill="none" stroke="#e63838" stroke-width="1"/>
<circle cx="770.1" cy="146.8" r="2.1" fill="none" stroke="#e63838" stroke-width="1"/>
<circle cx="758.4" cy="146.8" r="2.1" fill="none" stroke="#e63838" stroke-width="1"/>
<circle cx="750.2" cy="142.6" r="2.1" fill="none" stroke="#e63838" stroke-width="1"/>
<circle cx="752.1" cy="147" r="2.1" fill="none" stroke="#e63838" stroke-width="1"/>
<circle cx="733.8" cy="151.4" r="2.1" fill="none" stroke="#e63838" stroke-width="1"/>
<circle cx="754.6" cy="160.2" r="2.1" fill="none" stroke="#e63838" stroke-width="1"/>
<circle cx="772.3" cy="155.6" r="2.1" fill="none" stroke="#e63838" stroke-width="1"/>
<circle cx="774.4" cy="155.6" r="2.1" fill="none" stroke="#e63838" stroke-width="1"/>
<circle cx="776.1" cy="155.6" r="2.1" fill="none" stroke="#e63838" stroke-width="1"/>
<circle cx="779.5" cy="133.8" r="2.1" fill="none" stroke="#e63838" stroke-width="1"/>
<circle cx="777.7" cy="142.6" r="2.1" fill="none" stroke="#e63838" stroke-width="1"/>
<circle cx="822.5" cy="142.6" r="2.1" fill="none" stroke="#e63838" stroke-width="1"/>
<circle cx="852.4" cy="155.6" r="2.1" fill="none" stroke="#e63838" stroke-width="1"/>
<circle cx="856.1" cy="155.6" r="2.1" fill="none" stroke="#e63838" stroke-width="1"/>
<circle cx="871.3" cy="151.4" r="2.1" fill="none" stroke="#e63838" stroke-width="1"/>
<circle cx="873.2" cy="137.5" r="2.1" fill="none" stroke="#e63838" stroke-width="1"/>
<circle cx="873.8" cy="133.8" r="2.1" fill="none" stroke="#e63838" stroke-width="1"/>
<circle cx="861.8" cy="168.8" r="2.1" fill="none" stroke="#e63838" stroke-width="1"/>
<circle cx="859.9" cy="173.9" r="2.1" fill="none" stroke="#e63838" stroke-width="1"/>
<circle cx="867.5" cy="177.7" r="2.1" fill="none" stroke="#e63838" stroke-width="1"/>
<circle cx="861.2" cy="187.7" r="2.1" fill="none" stroke="#e63838" stroke-width="1"/>
<circle cx="863.7" cy="187.7" r="2.1" fill="none" stroke="#e63838" stroke-width="1"/>
<circle cx="974.8" cy="61.4" r="2.1" fill="none" stroke="#e63838" stroke-width="1"/>
<circle cx="973" cy="74.3" r="2.1" fill="none" stroke="#e63838" stroke-width="1"/>
<circle cx="976.8" cy="79.3" r="2.1" fill="none" stroke="#e63838" stroke-width="1"/>
<circle cx="978.8" cy="88.1" r="2.1" fill="none" stroke="#e63838" stroke-width="1"/>
<circle cx="971" cy="92.9" r="2.1" fill="none" stroke="#e63838" stroke-width="1"/>
<circle cx="980.6" cy="101.8" r="2.1" fill="none" stroke="#e63838" stroke-width="1"/>
<circle cx="982.6" cy="106" r="2.1" fill="none" stroke="#e63838" stroke-width="1"/>
<circle cx="969" cy="115.1" r="2.1" fill="none" stroke="#e63838" stroke-width="1"/>
<circle cx="988.4" cy="115.1" r="2.1" fill="none" stroke="#e63838" stroke-width="1"/>
<circle cx="984.6" cy="119.9" r="2.1" fill="none" stroke="#e63838" stroke-width="1"/>
<circle cx="986.6" cy="125" r="2.1" fill="none" stroke="#e63838" stroke-width="1"/>
<circle cx="996.2" cy="119.9" r="2.1" fill="none" stroke="#e63838" stroke-width="1"/>
<circle cx="998" cy="125" r="2.1" fill="none" stroke="#e63838" stroke-width="1"/>
<circle cx="1000.5" cy="125" r="2.1" fill="none" stroke="#e63838" stroke-width="1"/>
<circle cx="1014.4" cy="115.1" r="2.1" fill="none" stroke="#e63838" stroke-width="1"/>
<circle cx="875.7" cy="133.8" r="2.1" fill="none" stroke="#e63838" stroke-width="1"/>
<circle cx="883.2" cy="133.8" r="2.1" fill="none" stroke="#e63838" stroke-width="1"/>
<circle cx="885.1" cy="142.6" r="2.1" fill="none" stroke="#e63838" stroke-width="1"/>
<circle cx="887" cy="151.4" r="2.1" fill="none" stroke="#e63838" stroke-width="1"/>
<circle cx="934.3" cy="133.8" r="2.1" fill="none" stroke="#e63838" stroke-width="1"/>
<circle cx="927.4" cy="142.6" r="2.1" fill="none" stroke="#e63838" stroke-width="1"/>
<circle cx="926.1" cy="147" r="2.1" fill="none" stroke="#e63838" stroke-width="1"/>
<circle cx="990.4" cy="137.5" r="2.1" fill="none" stroke="#e63838" stroke-width="1"/>
<circle cx="966.5" cy="147" r="2.1" fill="none" stroke="#e63838" stroke-width="1"/>
<circle cx="992.3" cy="147" r="2.1" fill="none" stroke="#e63838" stroke-width="1"/>
<circle cx="994.2" cy="151.4" r="2.1" fill="none" stroke="#e63838" stroke-width="1"/>
<circle cx="993.4" cy="146.7" r="2.1" fill="none" stroke="#e63838" stroke-width="1"/>
<circle cx="1003.7" cy="137" r="2.1" fill="none" stroke="#e63838" stroke-width="1"/>
<circle cx="946.9" cy="187.1" r="2.1" fill="none" stroke="#e63838" stroke-width="1"/>
<circle cx="949.4" cy="187.1" r="2.1" fill="none" stroke="#e63838" stroke-width="1"/>
<circle cx="965.2" cy="183.3" r="2.1" fill="none" stroke="#e63838" stroke-width="1"/>
<circle cx="953.2" cy="201" r="2.1" fill="none" stroke="#e63838" stroke-width="1"/>
<circle cx="955.8" cy="204.8" r="2.1" fill="none" stroke="#e63838" stroke-width="1"/>
<circle cx="958.3" cy="204.8" r="2.1" fill="none" stroke="#e63838" stroke-width="1"/>
<circle cx="961.2" cy="206.1" r="2.1" fill="none" stroke="#e63838" stroke-width="1"/>
<circle cx="705.5" cy="218.7" r="2.1" fill="none" stroke="#e63838" stroke-width="1"/>
<circle cx="707.4" cy="224" r="2.1" fill="none" stroke="#e63838" stroke-width="1"/>
<circle cx="709.9" cy="224" r="2.1" fill="none" stroke="#e63838" stroke-width="1"/>
<circle cx="712.4" cy="224" r="2.1" fill="none" stroke="#e63838" stroke-width="1"/>
<circle cx="714.9" cy="224" r="2.1" fill="none" stroke="#e63838" stroke-width="1"/>
<circle cx="708.6" cy="232.8" r="2.1" fill="none" stroke="#e63838" stroke-width="1"/>
<circle cx="717.5" cy="236.6" r="2.1" fill="none" stroke="#e63838" stroke-width="1"/>
<circle cx="662.6" cy="255.2" r="2.1" fill="none" stroke="#e63838" stroke-width="1"/>
<circle cx="665.1" cy="255.2" r="2.1" fill="none" stroke="#e63838" stroke-width="1"/>
<circle cx="672.7" cy="250.8" r="2.1" fill="none" stroke="#e63838" stroke-width="1"/>
<circle cx="675.2" cy="250.8" r="2.1" fill="none" stroke="#e63838" stroke-width="1"/>
<circle cx="678.4" cy="246.3" r="2.1" fill="none" stroke="#e63838" stroke-width="1"/>
<circle cx="680.9" cy="246.3" r="2.1" fill="none" stroke="#e63838" stroke-width="1"/>
<circle cx="682.8" cy="236.9" r="2.1" fill="none" stroke="#e63838" stroke-width="1"/>
<circle cx="722.5" cy="246.3" r="2.1" fill="none" stroke="#e63838" stroke-width="1"/>
<circle cx="687.5" cy="215" r="2.1" fill="none" stroke="#e63838" stroke-width="1"/>
<circle cx="689.5" cy="203" r="2.1" fill="none" stroke="#e63838" stroke-width="1"/>
<circle cx="691.5" cy="193" r="2.1" fill="none" stroke="#e63838" stroke-width="1"/>
<circle cx="685.5" cy="227" r="2.1" fill="none" stroke="#e63838" stroke-width="1"/>
<polyline points="662.8,271 667,274.5 672.7,277.5 675.4,278 680.3,271.6 684,258.3 686.6,246.3 689.7,232.8 693.5,220.2 697.9,208.9 705.5,200.7 707.4,197.28 708,196.31 709.3,195.18 711.8,199.3 714.3,202.08 716.8,203.18 720.6,204.46 724.4,204.15 726.9,203.32 729.4,201.2 730.7,198.54 732,188.8 740.2,153.27 741,152.5 746,154.98 748.5,157.62 756,166.69 763.6,173.09 767.4,175.21 773.7,177.09 776.2,177.19 777.5,174.63 782.5,156.65 787.5,145.4 788.8,146.2 793.9,151.75 797.6,158.44 806.5,169.36 816.5,180.54 822.8,183.28 827.9,163.4 834.2,148.46 839.2,153.03 844.3,163.21 849.3,169.29 851.8,171.37 856.9,174.23 859.4,175.66 864.4,177.81 869.5,179.54 874.5,161.79 878.3,149.63 880.8,145.58 883.3,147.02 887.1,150.34 888.4,152.8 893.4,163.8 894.7,165.29 902.2,172.45 903.5,173.73 907.3,176.9 913.6,183.98 914.9,184.31 917.4,184.16 917.8,183.19 923.7,161.18 924.1,159.98 927.9,153.06 932.9,154.28 939.2,166.49 940.5,167.57 946.8,171.29 949.3,172.94 954.4,177.52 956.9,178.97 960.7,176.33 965.7,163.61 967,159.47 974.5,138.75 975.8,137.07 980.8,135.75 982.1,135.87 987.1,139.23 988.4,139.3 998.5,141.77 1003.4,142.29 1010.2,143.04 1014.4,135.59 1015.2,134.15 1021.9,127.26 1027.8,129.35 1028.7,130.34 1034.5,140.78 1035.4,142.08 1040,147.6 1052.6,164 1064,165.2 1069,166.5 1081.6,190.4 1093,213.1 1105.5,216.9 1115.6,203 1127,208 1145.9,218.1 1154.7,220.7 1163.5,208 1173.6,215.6" fill="none" stroke="#222" stroke-width="0.9" stroke-dasharray="4.5,4"/>
<polyline points="663.9,299.6 666.4,301.5 668.9,302.1 675.2,300.2 682.8,297.1 686.6,275 691.6,253.9 695.4,240 699.8,225.3 703,215.2 707.4,202.6 709.3,197.5 714.3,205.1 720.6,207.6 726.9,205.7 730.7,201.3 732,188 741,169.1 748.5,171.6 763.6,180.5 773.7,181.7 777.5,180.5 782.5,165.3 788.8,160.3 793.9,160.3 806.5,175.4 816.5,186.8 822.8,186.8 827.9,170.4 839.2,162.8 849.3,174.2 856.9,177.9 864.4,181.7 869.5,183.5 878.3,160.3 883.3,160.3 888.4,162.8 894.7,169.1 902.2,174.2 907.3,177.9 913.6,185.5 917.8,184.5 924.1,169.2 932.9,165.4 940.5,171.7 949.3,175.5 956.9,181.8 965.7,170.4 975.8,146.5 980.8,143.2 988.4,142.7 998.5,145.2 1010.2,145.4 1015.2,135.3 1021.9,130.3 1027.8,132.8 1035.4,145.4 1043.9,154 1056.4,170.2 1069,176.6 1081.6,199.2 1093,219.4 1104.3,228.2 1115.6,220.7 1128.2,223.2 1150.9,228.2 1162.3,231.5 1173.6,227" fill="none" stroke="#000" stroke-width="2.3" stroke-linejoin="miter" stroke-miterlimit="1.5"/>
<polyline points="662.6,248.9 667.7,255.8 670.8,260.9 674.6,259 679,253.9 682.8,245.1 684,227.8 687.8,210.1 691.6,195 696,182.5 703,189.3 708,189.3 711.8,196.3 716.8,198.8 724.4,200.7 729.4,198.8 732,190 740.2,127 746,131.3 756,152.7 767.4,166.6 776.2,171.6 787.5,121.5 797.6,149 806.5,160.3 822.8,178 834.2,121.9 844.3,155.2 851.8,165.3 859.4,170.4 869.5,173.6 874.5,149 880.8,123.5 887.1,132.6 893.4,157.8 903.5,171.6 914.9,183 917.4,183.5 923.7,147.7 927.9,131.3 932.9,137.6 939.2,160.3 946.8,166.6 954.4,174.2 960.7,175.5 967,147.7 974.5,122.5 982.1,125 987.1,133.9 1003.4,137.8 1010.2,139.5 1014.4,133.6 1021.9,122.7 1028.7,124.4 1034.5,136.1 1043.9,146.5 1056.4,160.2 1069,142.5 1081.7,170.4 1093,194.2 1104.3,206.8 1115.6,177.8 1129.6,191.8 1150.9,211.8 1163.5,181.6 1173.6,199.2" fill="none" stroke="#ee0000" stroke-width="2.3" stroke-linejoin="miter" stroke-miterlimit="1.5"/>
<line x1="724" y1="338.6" x2="734" y2="338.6" stroke="#ee0000" stroke-width="2"/>
<text x="736" y="341.8" font-size="9.2" fill="#222">Temperature</text>
<circle cx="812" cy="338.8" r="1.9" fill="none" stroke="#e33" stroke-width="1"/>
<text x="819" y="341.8" font-size="9.2" fill="#222">Observed</text>
<line x1="875.9" y1="338.6" x2="885.7" y2="338.6" stroke="#111" stroke-width="1.6" stroke-dasharray="3,4"/>
<text x="887.5" y="341.8" font-size="9.2" fill="#222">Wet Bulb</text>
<line x1="943.8" y1="338.6" x2="954.3" y2="338.6" stroke="#000" stroke-width="2"/>
<text x="955.5" y="341.8" font-size="9.2" fill="#222">Dew Point</text>
<circle cx="1023.3" cy="338.6" r="1.9" fill="none" stroke="#333" stroke-width="1"/>
<text x="1030" y="341.8" font-size="9.2" fill="#222">Observed</text>
</svg>
</body></html>
